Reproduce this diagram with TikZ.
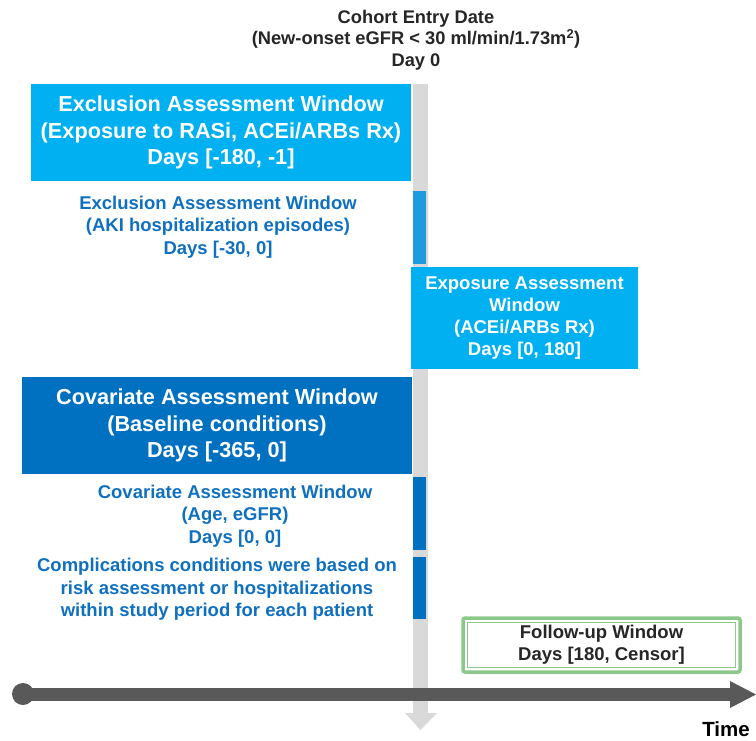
\documentclass[tikz,border=0pt]{standalone}
\usepackage{fontspec}
\setmainfont{Liberation Sans}
\definecolor{lblue}{HTML}{00B0F0}
\definecolor{dblue}{HTML}{0070C0}
\definecolor{mblue}{HTML}{1E9BDD}
\definecolor{tblue}{HTML}{1070C0}
\definecolor{vgray}{HTML}{D9D9D9}
\definecolor{agray}{HTML}{595959}
\definecolor{fgreen}{HTML}{8CC88C}
\definecolor{ttext}{HTML}{262626}
\tikzset{
  bigbox/.style={rectangle, inner sep=0pt, align=center, text=white,
    font=\fontsize{21.7}{26.5}\selectfont\bfseries},
  midbox/.style={rectangle, inner sep=0pt, align=center, text=white,
    font=\fontsize{18.5}{22}\selectfont\bfseries},
  bluetext/.style={inner sep=0pt, align=center, text=tblue,
    font=\fontsize{18.5}{22.5}\selectfont\bfseries},
  darktext/.style={inner sep=0pt, align=center, text=ttext,
    font=\fontsize{18.3}{21.5}\selectfont\bfseries},
}
\begin{document}
\begin{tikzpicture}[x=1pt,y=-1pt]
\useasboundingbox (0,0) rectangle (756,740);
% vertical day-0 bar
\fill[vgray] (413,84) rectangle (428,713);
\fill[vgray] (405,713) -- (437,713) -- (420.5,730) -- cycle;
% title
\node[darktext] (title) at (416,40) {Cohort Entry Date\\(New-onset eGFR < 30 ml/min/1.73m\textsuperscript{2})\\Day 0};
% exclusion box
\node[bigbox, fill=lblue, minimum width=380pt, minimum height=97pt] (excl) at (221,132.5)
  {Exclusion Assessment Window\\(Exposure to RASi, ACEi/ARBs Rx)\\Days [-180, -1]};
\fill[mblue] (413,191) rectangle (426,264);
\node[bluetext] (aki) at (218,227) {Exclusion Assessment Window\\(AKI hospitalization episodes)\\Days [-30, 0]};
% exposure box
\node[midbox, fill=lblue, minimum width=227pt, minimum height=102pt] (expo) at (524.5,318)
  {Exposure Assessment\\Window\\(ACEi/ARBs Rx)\\Days [0, 180]};
% covariate box
\node[bigbox, fill=dblue, minimum width=390pt, minimum height=97pt] (cov) at (217,425.5)
  {Covariate Assessment Window\\(Baseline conditions)\\Days [-365, 0]};
\fill[dblue] (413,477) rectangle (426,550);
\fill[dblue] (413,557) rectangle (426,619);
\node[bluetext] (age) at (235,516) {Covariate Assessment Window\\(Age, eGFR)\\Days [0, 0]};
\node[bluetext] (comp) at (217,589.5) {Complications conditions were based on\\risk assessment or hospitalizations\\within study period for each patient};
% follow-up box
\draw[fgreen, line width=3.5pt, rounded corners=2pt, fill=white] (463,618) rectangle (740,672);
\draw[fgreen, line width=1.5pt] (467.5,622.5) rectangle (735.5,667.5);
\node[darktext, font=\fontsize{18.5}{22}\selectfont\bfseries] (fu) at (601.5,645) {Follow-up Window\\Days [180, Censor]};
% time axis
\coordinate (a0) at (23,694);
\fill[agray] (23,688) rectangle (731,701);
\fill[agray] (a0) circle (11);
\fill[agray] (730,681) -- (756,694.5) -- (730,708) -- cycle;
\node[inner sep=0pt, text=black, font=\fontsize{20.5}{24}\selectfont\bfseries] (time) at (726,729.5) {Time};
\end{tikzpicture}
\end{document}
